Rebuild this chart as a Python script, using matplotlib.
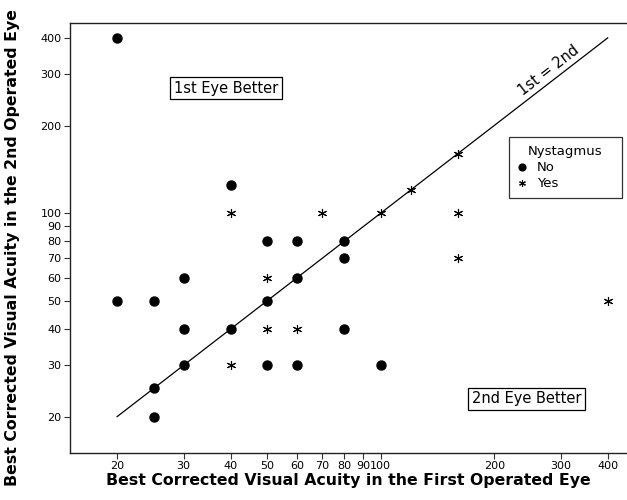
import matplotlib
matplotlib.use("Agg")
import matplotlib.pyplot as plt
from matplotlib.ticker import FixedLocator, FixedFormatter, NullLocator

# Data
no_x = [20, 40, 20, 25, 30, 30, 40, 30, 50, 60, 100, 25, 25, 50, 60, 80, 80, 60, 50, 80]
no_y = [400, 125, 50, 50, 60, 40, 40, 30, 30, 30, 30, 25, 20, 80, 80, 80, 70, 60, 50, 40]
yes_x = [40, 70, 100, 160, 120, 160, 160, 400, 50, 50, 60, 40, 40]
yes_y = [100, 100, 100, 100, 120, 160, 70, 50, 60, 40, 40, 30, 40]
tick_vals = [20, 30, 40, 50, 60, 70, 80, 90, 100, 200, 300, 400]
tick_labels = [str(v) for v in tick_vals]
line_ends = [20, 400]

plt.rcParams['font.family'] = ['DejaVu Sans']
fig = plt.figure(figsize=(6.27, 5.0), dpi=100)
ax = fig.add_axes([70/627, 47/500, 557/627, 430/500])
ax.set_xscale('log')
ax.set_yscale('log')
ax.set_xlim(15, 450)
ax.set_ylim(15, 450)

ax.plot(line_ends, line_ends, color='black', lw=0.9, zorder=1)
ax.plot(no_x, no_y, linestyle='none', marker='o', ms=6.5, color='black', label='No', zorder=3)
ax.plot(yes_x, yes_y, linestyle='none', marker=(6, 2, 0), ms=6.5, mew=0.8, color='black', label='Yes', zorder=3)

for axis in (ax.xaxis, ax.yaxis):
    axis.set_major_locator(FixedLocator(tick_vals))
    axis.set_major_formatter(FixedFormatter(tick_labels))
    axis.set_minor_locator(NullLocator())
ax.tick_params(which='major', direction='out', length=4, width=0.8, labelsize=8, color='#333333', pad=2)
ax.spines['right'].set_visible(False)
for s in ('left', 'top', 'bottom'):
    ax.spines[s].set_linewidth(1.0)
    ax.spines[s].set_color('#222222')

xl = ax.set_xlabel('Best Corrected Visual Acuity in the First Operated Eye', fontsize=11.3, fontweight='bold')
ax.xaxis.set_label_coords(0.499, -0.065)
xl.set_va('center')
yl = ax.set_ylabel('Best Corrected Visual Acuity in the 2nd Operated Eye', fontsize=11.3, fontweight='bold')
ax.yaxis.set_label_coords(-0.104, 0.477)
yl.set_va('center')

bbox = dict(boxstyle='square,pad=0.25', fc='white', ec='black', lw=0.9)
ax.text(38.9, 269, '1st Eye Better', fontsize=10.5, ha='center', va='center', bbox=bbox)
ax.text(244, 23.0, '2nd Eye Better', fontsize=10.5, ha='center', va='center', bbox=bbox)

ax.annotate('1st = 2nd', xy=(290, 290), xytext=(-4.8, 6.2), textcoords='offset points',
            rotation=37.6, rotation_mode='anchor', ha='center', va='center', fontsize=10.5)

leg = ax.legend(title='Nystagmus', loc='upper left', bbox_to_anchor=(0.788, 0.735, 0.203, 0.0),
                mode='expand',
                fontsize=9.5, title_fontsize=9.5, frameon=True, fancybox=False,
                edgecolor='black', handlelength=0.8, handletextpad=0.7, markerscale=0.75,
                borderpad=0.6, labelspacing=0.25, borderaxespad=0)
leg.get_frame().set_linewidth(0.9)

fig.savefig('out.png', dpi=100)
